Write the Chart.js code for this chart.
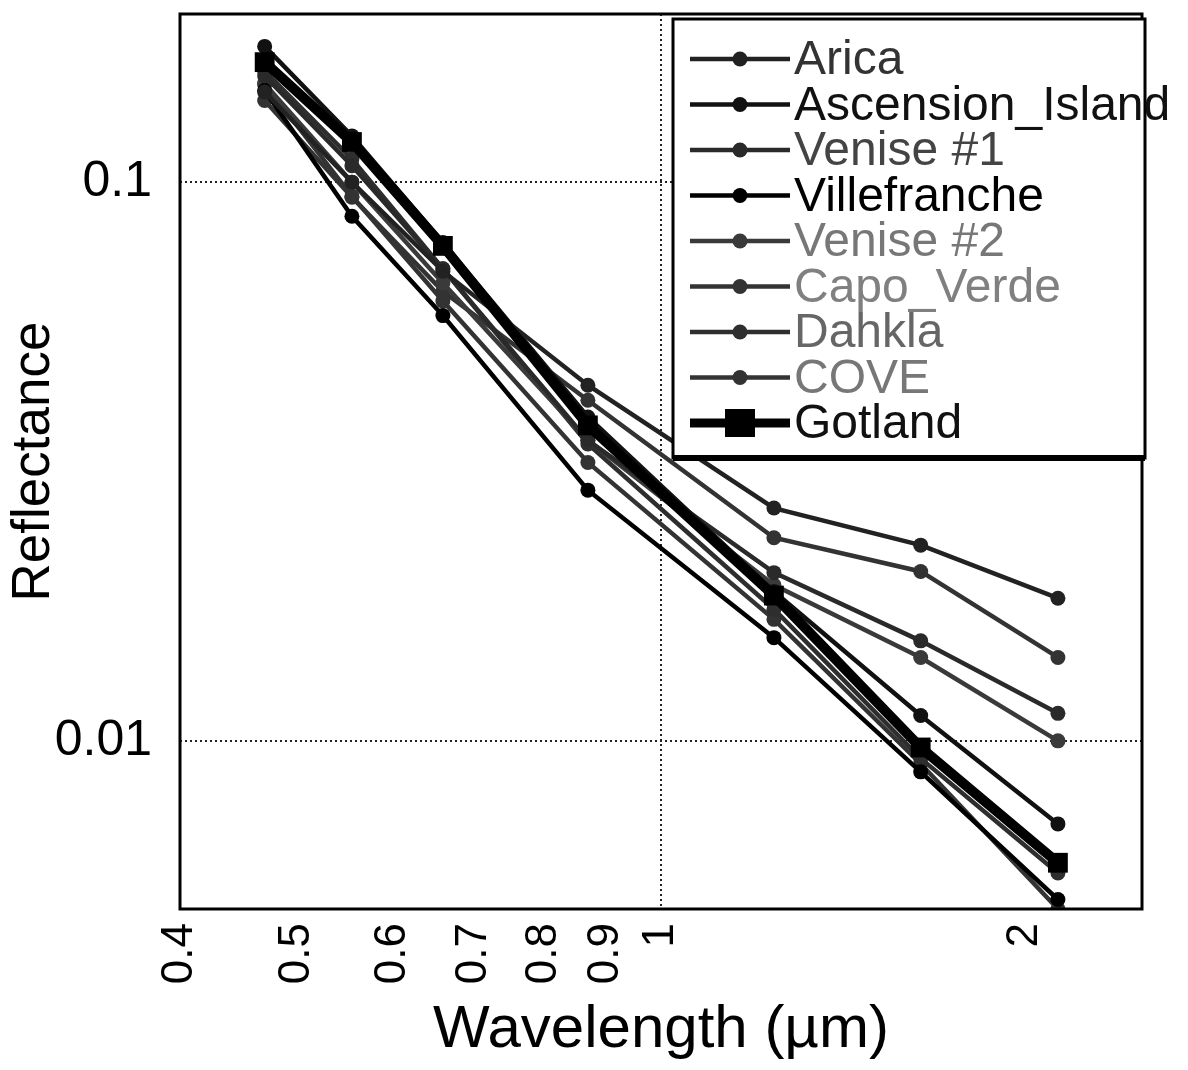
<!DOCTYPE html>
<html>
<head>
<meta charset="utf-8">
<script src="https://cdn.jsdelivr.net/npm/chart.js@4/dist/chart.umd.min.js"></script>
<style>
  html, body { margin: 0; padding: 0; background: #fff; }
  #wrap { width: 1188px; height: 1070px; position: relative; }
</style>
</head>
<body>
<div id="wrap"><canvas id="c" width="1188" height="1070"></canvas></div>
<script>
// ---- Data ----
const wavelengths = [0.47, 0.555, 0.66, 0.87, 1.24, 1.64, 2.13];
const xTickValues = [0.4, 0.5, 0.6, 0.7, 0.8, 0.9, 1, 2];
const yTickValues = [0.01, 0.1];
const siteNames = ["Arica", "Ascension_Island", "Venise #1", "Villefranche", "Venise #2", "Capo_Verde", "Dahkla", "COVE", "Gotland"];
const arica        = [0.145, 0.100, 0.0693, 0.0433, 0.0261, 0.0224, 0.0180];
const ascension    = [0.175, 0.121, 0.0780, 0.0380, 0.0185, 0.0111, 0.0071];
const venise1      = [0.155, 0.107, 0.0700, 0.0345, 0.0200, 0.0151, 0.0112];
const villefranche = [0.146, 0.0869, 0.0577, 0.0281, 0.0153, 0.0088, 0.0052];
const venise2      = [0.150, 0.100, 0.0660, 0.0345, 0.0190, 0.0141, 0.0100];
const capoVerde    = [0.140, 0.094, 0.0638, 0.0407, 0.0231, 0.0201, 0.0141];
const dahkla       = [0.158, 0.110, 0.0700, 0.0340, 0.0172, 0.0093, 0.0058];
const cove         = [0.150, 0.0944, 0.0613, 0.0315, 0.0165, 0.0091, 0.0050];
const gotland      = [0.164, 0.118, 0.0769, 0.0367, 0.0182, 0.00973, 0.00605];

const seriesValues = [arica, ascension, venise1, villefranche, venise2, capoVerde, dahkla, cove, gotland];
const lineColors = ["#222", "#111", "#2a2a2a", "#000", "#3a3a3a", "#333", "#2e2e2e", "#333", "#000"];
const textColors = ["#333", "#111", "#444", "#000", "#777", "#808080", "#666", "#777", "#111"];

const FONT = "'Liberation Sans', Arial, Helvetica, sans-serif";

const datasets = seriesValues.map((vals, i) => {
  const isGot = i === 8;
  return {
    label: siteNames[i],
    data: wavelengths.map((w, j) => ({ x: w, y: vals[j] })),
    borderColor: lineColors[i],
    backgroundColor: lineColors[i],
    borderWidth: isGot ? 10 : 4.5,
    pointStyle: isGot ? 'rect' : 'circle',
    pointRadius: isGot ? 14 : 7.5,
    pointBorderWidth: 0,
    pointBackgroundColor: lineColors[i],
    tension: 0,
    order: isGot ? 0 : i + 1,
    legendText: textColors[i]
  };
});

// Custom legend drawn inside the plot area
const boxLegend = {
  id: 'boxLegend',
  afterDraw(chart) {
    const ctx = chart.ctx;
    const x0 = 673, y0 = 19, x1 = 1145, y1 = 458;
    ctx.save();
    ctx.fillStyle = '#fff';
    ctx.fillRect(x0, y0, x1 - x0, y1 - y0);
    ctx.strokeStyle = '#000';
    ctx.lineWidth = 3;
    ctx.strokeRect(x0, y0, x1 - x0, y1 - y0);
    ctx.lineWidth = 6;
    ctx.beginPath();
    ctx.moveTo(x0, y1); ctx.lineTo(x1, y1);
    ctx.stroke();
    const rowH = 45.5, first = 59;
    chart.data.datasets.forEach((ds, i) => {
      const cy = first + i * rowH;
      const isGot = ds.pointStyle === 'rect';
      ctx.strokeStyle = ds.borderColor;
      ctx.lineWidth = isGot ? 9 : 4.5;
      ctx.beginPath();
      ctx.moveTo(690, cy); ctx.lineTo(790, cy);
      ctx.stroke();
      ctx.fillStyle = ds.borderColor;
      if (isGot) {
        ctx.fillRect(740 - 15, cy - 14, 30, 28);
      } else {
        ctx.beginPath();
        ctx.arc(740, cy, 7.5, 0, Math.PI * 2);
        ctx.fill();
      }
      ctx.fillStyle = ds.legendText;
      ctx.font = '48px ' + FONT;
      ctx.textBaseline = 'middle';
      ctx.textAlign = 'left';
      ctx.fillText(ds.label, 794, cy + 2);
    });
    ctx.restore();
  }
};

const frame = {
  id: 'frame',
  afterDatasetsDraw(chart) {
    const a = chart.chartArea, ctx = chart.ctx;
    ctx.save();
    ctx.strokeStyle = '#000';
    ctx.lineWidth = 3;
    ctx.strokeRect(a.left, a.top, a.right - a.left, a.bottom - a.top);
    ctx.restore();
  }
};

new Chart(document.getElementById('c'), {
  type: 'line',
  data: { datasets },
  plugins: [frame, boxLegend],
  options: {
    responsive: false,
    animation: false,
    layout: { padding: { top: 12, right: 46, left: 0, bottom: 0 } },
    plugins: { legend: { display: false }, tooltip: { enabled: false } },
    scales: {
      x: {
        type: 'logarithmic',
        min: 0.4, max: 2.5,
        afterBuildTicks(scale) { scale.ticks = xTickValues.map(v => ({ value: v })); },
        afterFit(scale) { scale.height = 161; scale.paddingLeft = 0; scale.paddingRight = 0; },
        ticks: {
          autoSkip: false, minRotation: 90, maxRotation: 90, padding: 14,
          color: '#000',
          font: { family: FONT, size: 44 },
          callback: (v) => String(v)
        },
        grid: {
          drawTicks: false,
          color: (c) => (c.tick && c.tick.value === 1) ? '#222' : 'rgba(0,0,0,0)',
          lineWidth: 2
        },
        border: { display: false, dash: [2, 3] },
        title: {
          display: true, text: 'Wavelength (\u00b5m)', color: '#000',
          font: { family: FONT, size: 60 }, padding: { top: 0, bottom: 4 }
        }
      },
      y: {
        type: 'logarithmic',
        min: 0.005, max: 0.2,
        afterBuildTicks(scale) { scale.ticks = yTickValues.map(v => ({ value: v })); },
        afterFit(scale) { scale.width = 180; scale.paddingTop = 0; scale.paddingBottom = 0; },
        ticks: {
          padding: 28, color: '#000',
          font: { family: FONT, size: 50 },
          callback: (v) => String(v)
        },
        grid: {
          drawTicks: false,
          color: '#222',
          lineWidth: 2
        },
        border: { display: false, dash: [2, 3] },
        title: {
          display: true, text: 'Reflectance', color: '#000',
          font: { family: FONT, size: 53 }, padding: { top: 3, bottom: 0 }
        }
      }
    }
  }
});
</script>
</body>
</html>
